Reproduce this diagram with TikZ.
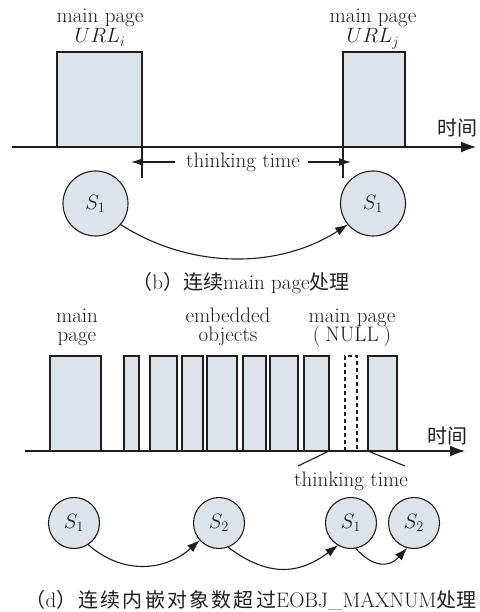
\documentclass[tikz,border=0pt]{standalone}
\usepackage{fontspec}
\newfontfamily\cjk{Noto Sans CJK SC}
\newfontfamily\cjkw[LetterSpace=11]{Noto Sans CJK SC}
\usetikzlibrary{arrows.meta}
\definecolor{boxfill}{RGB}{220,227,235}
\definecolor{ink}{RGB}{30,30,30}
\begin{document}
\begin{tikzpicture}[x=1pt,y=-1pt,
  font=\fontsize{21}{24}\selectfont, line width=1.1pt, text=ink,
  pbox/.style={draw=ink, fill=boxfill, inner sep=0pt, outer sep=0pt, anchor=south west, minimum height=95pt},
  dbox/.style={pbox, fill=white, dash pattern=on 4pt off 3pt},
  state/.style={circle, draw=ink, fill=boxfill, inner sep=0pt, outer sep=0pt},
  big/.style={state, minimum size=65pt},
  small/.style={state, minimum size=51pt},
  axis/.style={draw=ink, -{Latex[length=15pt,width=11pt]}},
  tarrow/.style={draw=ink, -{Latex[length=12pt,width=8pt]}},
  conn/.style={draw=ink, -{Latex[length=13pt,width=9pt]}},
  lbl/.style={anchor=base, inner sep=0pt},
  cjkl/.style={font=\fontsize{20}{22}\selectfont},
  plain/.style={draw=ink}]
\useasboundingbox (0,0) rectangle (479,612);

% ---------- (b) ----------
\node[pbox, minimum width=85pt] (p1) at (57,147) {};
\node[pbox, minimum width=62pt] (p2) at (343,147) {};
\node[lbl] (l1a) at (100,23) {main page};
\node[lbl] (l1b) at (100,43) {$URL_i$};
\node[lbl] (l2a) at (373,23) {main page};
\node[lbl] (l2b) at (373,43) {$URL_j$};
\node[cjkl] (t1) at (457,128) {\cjk 时间};
\coordinate (a0) at (12,147);
\coordinate (a1) at (476,147);
\draw[axis] (a0) -- (a1);
\coordinate (v1) at (142,178);
\coordinate (v2) at (343,178);
\draw[plain] (p1.south east) -- (v1);
\draw[plain] (p2.south west) -- (v2);
\node[inner sep=0pt] (tt) at (243,162) {thinking time};
\draw[tarrow] ([xshift=-11pt]tt.west) -- ([xshift=-11pt]tt.west -| v1);
\draw[tarrow] ([xshift=8pt]tt.east) -- ([xshift=8pt]tt.east -| v2);
\node[big] (s1) at (95.5,203.5) {$S_1$};
\node[big] (s2) at (373,203.5) {$S_1$};
\draw[conn] (s1.-40) .. controls +(70,45) and +(-70,45) .. (s2.-140);
\node (capb) at (241,283) {{\cjk\fontsize{20}{22}\selectfont （}b{\cjk\fontsize{20}{22}\selectfont ）连续}main page{\cjk\fontsize{20}{22}\selectfont 处理}};

% ---------- (d) ----------
\node[pbox, minimum width=51pt] (q1) at (50,451) {};
\node[pbox, minimum width=15pt] (q2) at (124,451) {};
\node[pbox, minimum width=27pt] (q3) at (150,451) {};
\node[pbox, minimum width=21pt] (q4) at (182,451) {};
\node[pbox, minimum width=30pt] (q5) at (207,451) {};
\node[pbox, minimum width=23pt] (q6) at (243,451) {};
\node[pbox, minimum width=28pt] (q7) at (270,451) {};
\node[pbox, minimum width=25pt] (q8) at (304,451) {};
\node[dbox, minimum width=12pt] (q9) at (345,451) {};
\node[pbox, minimum width=29pt] (q10) at (368,451) {};
\node[lbl] (m1a) at (77,322) {main};
\node[lbl] (m1b) at (77,341) {page};
\node[lbl] (m2a) at (228,322) {embedded};
\node[lbl] (m2b) at (228,341) {objects};
\node[lbl] (m3a) at (352,322) {main page};
\node[lbl] (m3b) at (352,341) {(\hspace{5pt}NULL\hspace{5pt})};
\node[cjkl] (t2) at (447,436) {\cjk 时间};
\coordinate (b0) at (25,451);
\coordinate (b1) at (465,451);
\draw[axis] (b0) -- (b1);
\coordinate (w1) at (298,466);
\coordinate (w2) at (405,466);
\draw[plain] (q8.south east) -- (w1);
\draw[plain] (q10.south west) -- (w2);
\node[lbl] (tt2) at (351,486) {thinking time};
\node[small] (r1) at (74,523) {$S_1$};
\node[small] (r2) at (219,523) {$S_2$};
\node[small] (r3) at (351,523) {$S_1$};
\node[small] (r4) at (414,523) {$S_2$};
\draw[conn] (r1.-57) .. controls +(35,31) and +(-35,31) .. (r2.-138);
\draw[conn] (r2.-70) .. controls +(40,30) and +(-40,30) .. (r3.-120);
\draw[conn] (r3.-80) .. controls +(18,20) and +(-18,20) .. (r4.-105);
\node (capd) at (251,600) {{\cjkw\fontsize{20}{22}\selectfont （}d{\cjkw\fontsize{20}{22}\selectfont ）连续内嵌对象数超过}EOBJ\_MAXNUM{\cjk\fontsize{20}{22}\selectfont 处理}};
\end{tikzpicture}
\end{document}
